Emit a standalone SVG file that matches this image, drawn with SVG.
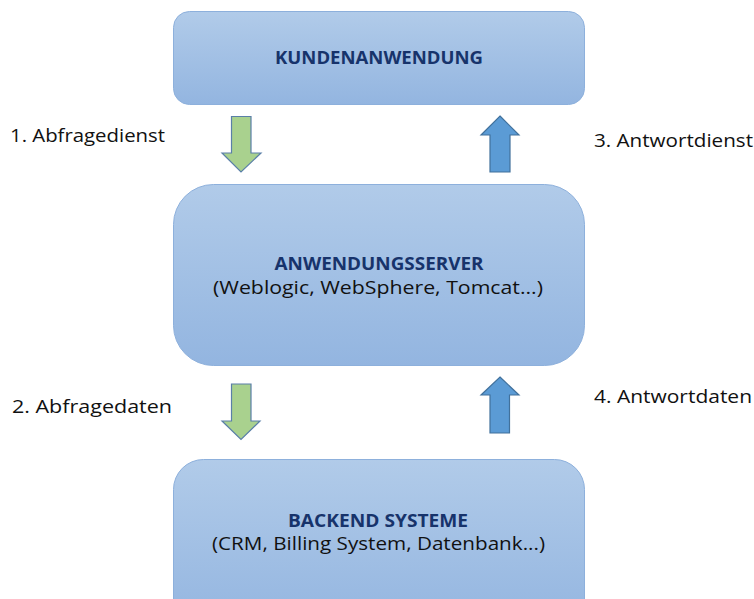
<svg xmlns="http://www.w3.org/2000/svg" width="754" height="599" viewBox="0 0 754 599">
<defs>
<linearGradient id="g" x1="0" y1="0" x2="0" y2="1">
<stop offset="0" stop-color="#b1cbe9"/>
<stop offset="1" stop-color="#93b5e0"/>
</linearGradient>
<style>
.box{fill:url(#g);stroke:#8db0dc;stroke-width:1}
.title{font-family:"Open Sans",sans-serif;font-weight:700;font-size:17.5px;fill:#17336b;text-anchor:middle}
.sub{font-family:"Open Sans",sans-serif;font-size:18.5px;fill:#111;text-anchor:middle}
.lbl{font-family:"Open Sans",sans-serif;font-size:18px;fill:#111}
.down{fill:#a9d18e;stroke:#5a7fa8;stroke-width:1.2}
.up{fill:#5b9bd5;stroke:#41719c;stroke-width:1.2}
</style>
</defs>
<rect width="754" height="599" fill="#fff"/>
<g id="kundenanwendung">
<rect class="box" x="173.5" y="11.5" width="411" height="93" rx="16"/>
<text class="title" x="379" y="64" textLength="208" lengthAdjust="spacingAndGlyphs">KUNDENANWENDUNG</text>
</g>
<g id="anwendungsserver">
<rect class="box" x="173.5" y="184.5" width="411" height="181" rx="40"/>
<text class="title" x="379" y="270" textLength="209" lengthAdjust="spacingAndGlyphs">ANWENDUNGSSERVER</text>
<text class="sub" x="378" y="294" textLength="330" lengthAdjust="spacingAndGlyphs">(Weblogic, WebSphere, Tomcat...)</text>
</g>
<g id="backend">
<rect class="box" x="173.5" y="459.5" width="411" height="170" rx="30"/>
<text class="title" x="378" y="527" textLength="180" lengthAdjust="spacingAndGlyphs">BACKEND SYSTEME</text>
<text class="sub" x="378.5" y="550" textLength="333" lengthAdjust="spacingAndGlyphs">(CRM, Billing System, Datenbank...)</text>
</g>
<g id="connectors">
<polygon class="down" points="231.5,116.5 251,116.5 251,153 261,153 241,172 222,153 231.5,153"/>
<polygon class="up" points="500,116 519,135 510,135 510,172 490,172 490,135 481,135"/>
<polygon class="down" points="231.5,384 251,384 251,421 260,421 241,439.5 222,421 231.5,421"/>
<polygon class="up" points="500,377 519,395 509.5,395 509.5,433 490,433 490,395 481,395"/>
<text class="lbl" x="10" y="142" textLength="155" lengthAdjust="spacingAndGlyphs">1. Abfragedienst</text>
<text class="lbl" x="594" y="147" textLength="159" lengthAdjust="spacingAndGlyphs">3. Antwortdienst</text>
<text class="lbl" x="12" y="413" textLength="160" lengthAdjust="spacingAndGlyphs">2. Abfragedaten</text>
<text class="lbl" x="594" y="403" textLength="158" lengthAdjust="spacingAndGlyphs">4. Antwortdaten</text>
</g>
</svg>
